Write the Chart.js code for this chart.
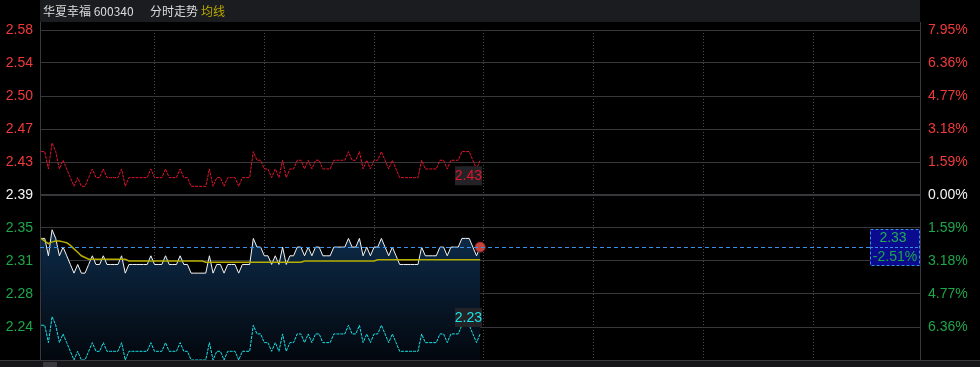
<!DOCTYPE html>
<html>
<head>
<meta charset="utf-8">
<script src="https://cdn.jsdelivr.net/npm/chart.js@4.4.1/dist/chart.umd.min.js"></script>
<style>
  html, body { margin: 0; padding: 0; background: #000; overflow: hidden; }
</style>
</head>
<body>
<canvas id="chart" width="980" height="367"></canvas>
<script>
// 分时数据 (9:30 - 11:30, one point per minute)
const preClose = 2.39;
const price = [
  2.34,2.34,2.32,2.35,2.34,2.32,2.33,2.32,2.31,2.30,
  2.31,2.30,2.30,2.31,2.32,2.31,2.31,2.32,2.31,2.31,
  2.31,2.31,2.32,2.30,2.31,2.31,2.31,2.31,2.31,2.31,
  2.32,2.31,2.31,2.31,2.32,2.31,2.31,2.31,2.32,2.31,
  2.31,2.30,2.30,2.30,2.30,2.30,2.32,2.30,2.31,2.31,
  2.30,2.31,2.31,2.31,2.30,2.31,2.31,2.31,2.34,2.33,
  2.33,2.32,2.32,2.31,2.32,2.31,2.33,2.31,2.32,2.32,
  2.33,2.33,2.32,2.33,2.32,2.33,2.33,2.32,2.32,2.32,
  2.33,2.33,2.33,2.33,2.34,2.33,2.33,2.34,2.32,2.33,
  2.32,2.33,2.33,2.34,2.33,2.32,2.33,2.32,2.31,2.31,
  2.31,2.31,2.31,2.31,2.33,2.32,2.32,2.32,2.32,2.33,
  2.33,2.32,2.33,2.33,2.33,2.34,2.34,2.34,2.33,2.32,
  2.33
];
const avgPrice = [
  2.340,2.337,2.334,2.336,2.337,2.337,2.336,2.335,2.332,2.328,
  2.324,2.320,2.318,2.316,2.316,2.316,2.316,2.316,2.316,2.316,
  2.316,2.316,2.316,2.316,2.314,2.314,2.314,2.314,2.314,2.314,
  2.314,2.314,2.314,2.314,2.314,2.314,2.314,2.314,2.314,2.314,
  2.314,2.314,2.314,2.314,2.314,2.3125,2.3125,2.3125,2.3125,2.3125,
  2.3125,2.3125,2.3125,2.3125,2.3125,2.3125,2.3125,2.3125,2.3125,2.3125,
  2.3125,2.3125,2.3125,2.3125,2.3125,2.3125,2.3125,2.3125,2.3125,2.3125,
  2.3125,2.3125,2.314,2.314,2.314,2.314,2.314,2.314,2.314,2.314,
  2.314,2.314,2.314,2.314,2.314,2.314,2.314,2.314,2.314,2.314,
  2.314,2.314,2.3155,2.3155,2.3155,2.3155,2.3155,2.3155,2.3155,2.3155,
  2.3155,2.3155,2.3155,2.3155,2.3155,2.3155,2.3155,2.3155,2.3155,2.3155,
  2.3155,2.3155,2.3155,2.3155,2.3155,2.3155,2.3155,2.3155,2.3155,2.3155,
  2.3155
];
const upperLine = [
  2.44,2.44,2.42,2.45,2.44,2.42,2.43,2.42,2.41,2.40,
  2.41,2.40,2.40,2.41,2.42,2.41,2.41,2.42,2.41,2.41,
  2.41,2.41,2.42,2.40,2.41,2.41,2.41,2.41,2.41,2.41,
  2.42,2.41,2.41,2.41,2.42,2.41,2.41,2.41,2.42,2.41,
  2.41,2.40,2.40,2.40,2.40,2.40,2.42,2.40,2.41,2.41,
  2.40,2.41,2.41,2.41,2.40,2.41,2.41,2.41,2.44,2.43,
  2.43,2.42,2.42,2.41,2.42,2.41,2.43,2.41,2.42,2.42,
  2.43,2.43,2.42,2.43,2.42,2.43,2.43,2.42,2.42,2.42,
  2.43,2.43,2.43,2.43,2.44,2.43,2.43,2.44,2.42,2.43,
  2.42,2.43,2.43,2.44,2.43,2.42,2.43,2.42,2.41,2.41,
  2.41,2.41,2.41,2.41,2.43,2.42,2.42,2.42,2.42,2.43,
  2.43,2.42,2.43,2.43,2.43,2.44,2.44,2.44,2.43,2.42,
  2.43
];
const lowerLine = [
  2.24,2.24,2.22,2.25,2.24,2.22,2.23,2.22,2.21,2.20,
  2.21,2.20,2.20,2.21,2.22,2.21,2.21,2.22,2.21,2.21,
  2.21,2.21,2.22,2.20,2.21,2.21,2.21,2.21,2.21,2.21,
  2.22,2.21,2.21,2.21,2.22,2.21,2.21,2.21,2.22,2.21,
  2.21,2.20,2.20,2.20,2.20,2.20,2.22,2.20,2.21,2.21,
  2.20,2.21,2.21,2.21,2.20,2.21,2.21,2.21,2.24,2.23,
  2.23,2.22,2.22,2.21,2.22,2.21,2.23,2.21,2.22,2.22,
  2.23,2.23,2.22,2.23,2.22,2.23,2.23,2.22,2.22,2.22,
  2.23,2.23,2.23,2.23,2.24,2.23,2.23,2.24,2.22,2.23,
  2.22,2.23,2.23,2.24,2.23,2.22,2.23,2.22,2.21,2.21,
  2.21,2.21,2.21,2.21,2.23,2.22,2.22,2.22,2.22,2.23,
  2.23,2.22,2.23,2.23,2.23,2.24,2.24,2.24,2.23,2.22,
  2.23
];
const priceTicks = ['2.58','2.54','2.50','2.47','2.43','2.39','2.35','2.31','2.28','2.24'];
const pctTicks = ['7.95%','6.36%','4.77%','3.18%','1.59%','0.00%','1.59%','3.18%','4.77%','6.36%'];
const timeGrid = [31, 61, 91, 121, 151, 181, 211];

const step = preClose * 0.0159;
const yMin = preClose - 5 * step;
const yMax = preClose + 5 * step;
const RED = '#f03a3a', GREEN = '#1ea64a', WHITE = '#f4f4f4';
const tickColor = i => i < 5 ? RED : (i === 5 ? WHITE : GREEN);
const toXY = arr => arr.map((v, i) => ({ x: i, y: v }));
const last = price.length - 1;
const FONT = 'Liberation Sans';

const decor = {
  id: 'decor',
  beforeDraw(chart) {
    const { ctx, chartArea: a } = chart;
    ctx.save();
    ctx.fillStyle = '#000';
    ctx.fillRect(0, 0, chart.width, chart.height);
    // title bar
    ctx.fillStyle = '#1b1c1f';
    ctx.fillRect(a.left, 0, a.right - a.left, 22);
    // bottom strip
    ctx.fillStyle = '#17171a';
    ctx.fillRect(0, a.bottom, chart.width, chart.height - a.bottom);
    ctx.fillStyle = '#38383d';
    ctx.fillRect(a.left + 3, a.bottom + 2, 14, 5);
    ctx.strokeStyle = '#3a3a3e';
    ctx.lineWidth = 1;
    ctx.beginPath();
    ctx.moveTo(a.left + 0.5, 22); ctx.lineTo(a.left + 0.5, a.top);
    ctx.moveTo(a.right + 0.5, 22); ctx.lineTo(a.right + 0.5, a.top);
    ctx.moveTo(0, a.bottom + 0.5); ctx.lineTo(chart.width, a.bottom + 0.5);
    ctx.stroke();
    // title text
    ctx.font = '12px "Noto Sans CJK SC"';
    ctx.textBaseline = 'middle';
    ctx.fillStyle = '#dcdcdc';
    ctx.fillText('华夏幸福 600340', a.left + 3, 11);
    ctx.fillText('分时走势', a.left + 110, 11);
    ctx.fillStyle = '#b8aa00';
    ctx.fillText('均线', a.left + 161, 11);
    ctx.restore();
  },
  afterDatasetsDraw(chart) {
    const { ctx, chartArea: a, scales } = chart;
    ctx.save();
    // current price dashed line + box
    const py = Math.round(scales.y.getPixelForValue(price[last])) + 0.5;
    const boxW = 50, boxH = 36, boxX = a.right - boxW;
    ctx.strokeStyle = '#3a8fe6';
    ctx.lineWidth = 1;
    ctx.setLineDash([4, 3]);
    ctx.beginPath();
    ctx.moveTo(a.left, py); ctx.lineTo(boxX, py);
    ctx.stroke();
    ctx.setLineDash([]);
    ctx.fillStyle = '#0b0b8f';
    ctx.fillRect(boxX, py - boxH / 2, boxW, boxH);
    ctx.setLineDash([3, 2]);
    ctx.strokeRect(boxX + 0.5, py - boxH / 2, boxW - 1, boxH);
    ctx.beginPath();
    ctx.moveTo(boxX, py); ctx.lineTo(a.right, py);
    ctx.stroke();
    ctx.setLineDash([]);
    ctx.font = '14px "' + FONT + '"';
    ctx.textAlign = 'center';
    ctx.textBaseline = 'middle';
    ctx.fillStyle = '#22aa5a';
    ctx.fillText(price[last].toFixed(2), boxX + boxW / 2 - 2, py - 9);
    ctx.fillStyle = GREEN;
    const pct = (price[last] - preClose) / preClose * 100;
    ctx.fillText(pct.toFixed(2) + '%', boxX + boxW / 2, py + 10);

    // end labels for upper and lower lines
    const up = chart.getDatasetMeta(1).data[last];
    const lo = chart.getDatasetMeta(2).data[last];
    const lx = Math.round(up.x) + 2;
    ctx.textAlign = 'right';
    ctx.fillStyle = '#232327';
    ctx.fillRect(lx - 27, up.y + 6, 27, 19);
    ctx.fillRect(lx - 27, lo.y - 26, 27, 19);
    ctx.fillStyle = '#e3142d';
    ctx.fillText(upperLine[last].toFixed(2), lx, up.y + 16);
    ctx.fillStyle = '#19e3e8';
    ctx.fillText(lowerLine[last].toFixed(2), lx, lo.y - 16);
    ctx.restore();
  }
};

new Chart(document.getElementById('chart'), {
  type: 'line',
  data: {
    datasets: [
      { label: '均线', data: toXY(avgPrice), borderColor: '#b8b000', borderWidth: 1.5, pointRadius: 0 },
      { label: 'upper', data: toXY(upperLine), borderColor: '#e3142d', borderWidth: 1, borderDash: [3, 1], pointRadius: 0 },
      { label: 'lower', data: toXY(lowerLine), borderColor: '#19e3e8', borderWidth: 1, borderDash: [3, 1], pointRadius: 0 },
      {
        label: '价格', data: toXY(price), borderColor: WHITE, borderWidth: 1, fill: 'start',
        backgroundColor(c) {
          const { ctx, chartArea, scales } = c.chart;
          if (!chartArea) return 'transparent';
          const g = ctx.createLinearGradient(0, scales.y.getPixelForValue(Math.max(...price)), 0, chartArea.bottom);
          g.addColorStop(0, '#0d2c4b');
          g.addColorStop(1, '#03070d');
          return g;
        },
        pointRadius: c => c.dataIndex === last ? 5 : 0,
        pointBackgroundColor: '#c4443c',
        pointBorderColor: '#8f2424',
        pointBorderWidth: 1
      }
    ]
  },
  options: {
    responsive: false,
    animation: false,
    devicePixelRatio: 1,
    layout: { padding: { top: 30, bottom: 7, left: 0, right: 0 } },
    elements: { line: { tension: 0 } },
    plugins: { legend: { display: false }, tooltip: { enabled: false } },
    scales: {
      x: {
        type: 'linear', min: -0.3, max: 240.2,
        afterBuildTicks(s) { s.ticks = timeGrid.map(v => ({ value: v })); },
        ticks: { display: false },
        grid: { drawTicks: false, color: '#4a4a50' },
        border: { display: true, color: '#3a3a3e', dash: [1, 2] },
        afterFit(s) { s.height = 0; s.paddingLeft = 0; s.paddingRight = 0; }
      },
      y: {
        position: 'left', min: yMin, max: yMax,
        afterBuildTicks(s) { s.ticks = priceTicks.map((_, k) => ({ value: preClose + (5 - k) * step })); },
        ticks: {
          autoSkip: false, padding: 7,
          callback: (v, i) => priceTicks[i],
          color: c => tickColor(c.index),
          font: { family: FONT, size: 14 }
        },
        grid: { drawTicks: false, color: '#38383c', lineWidth: c => c.index === 5 ? 2 : 1 },
        border: { color: '#3a3a3e' },
        afterFit(s) { s.width = 40; s.paddingTop = 0; s.paddingBottom = 0; }
      },
      y2: {
        position: 'right', min: yMin, max: yMax,
        afterBuildTicks(s) { s.ticks = pctTicks.map((_, k) => ({ value: preClose + (5 - k) * step })); },
        ticks: {
          autoSkip: false, padding: 8,
          callback: (v, i) => pctTicks[i],
          color: c => tickColor(c.index),
          font: { family: FONT, size: 14 }
        },
        grid: { display: false, drawTicks: false },
        border: { color: '#3a3a3e' },
        afterFit(s) { s.width = 60; s.paddingTop = 0; s.paddingBottom = 0; }
      }
    }
  },
  plugins: [decor]
});
</script>
</body>
</html>
